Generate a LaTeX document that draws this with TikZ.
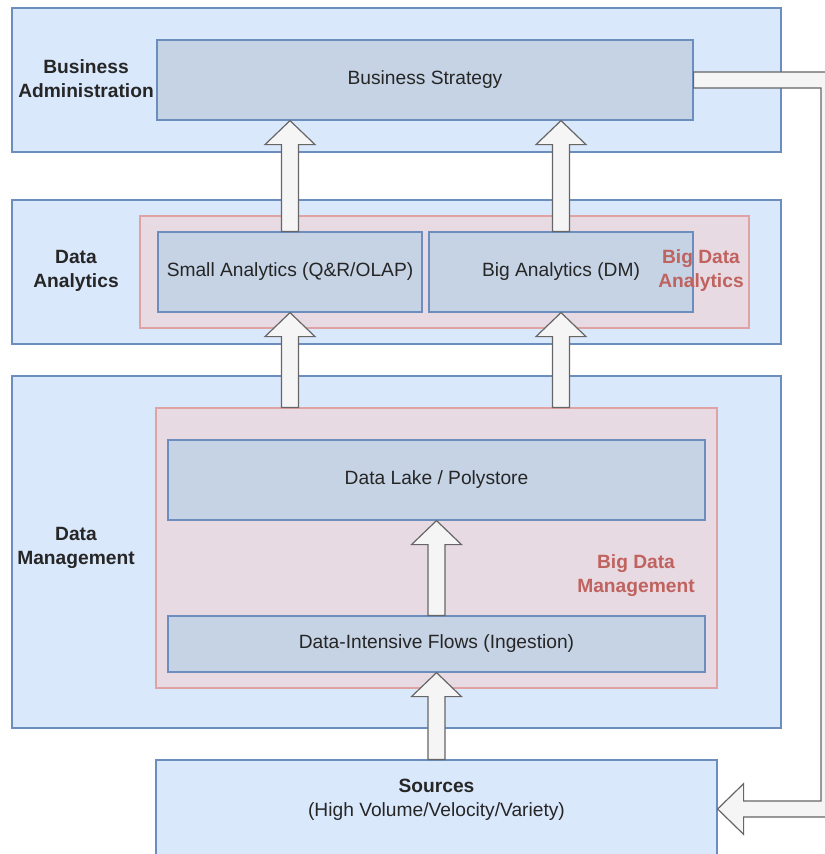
\documentclass[tikz,border=0pt]{standalone}
\usepackage{fontspec}
\setmainfont{Liberation Sans}
\usetikzlibrary{calc}
\definecolor{layerfill}{HTML}{DAE8FC}
\definecolor{layerline}{HTML}{6C8EBF}
\definecolor{boxfill}{HTML}{C5D3E5}
\definecolor{bigfill}{HTML}{E8DAE3}
\definecolor{bigline}{HTML}{E0A3A3}
\definecolor{bigtext}{HTML}{C0625E}
\definecolor{arrfill}{HTML}{F5F5F5}
\definecolor{arrline}{HTML}{666666}

% fat arrow going up from #1 to #2
\newcommand{\fatup}[2]{%
  \draw[fat] let \p1=#1, \p2=#2 in
    (\x1-6.4pt,\y1) -- (\x1-6.4pt,\y2-18pt) -- (\x1-18.75pt,\y2-18pt) -- (\x1,\y2)
    -- (\x1+18.75pt,\y2-18pt) -- (\x1+6.4pt,\y2-18pt) -- (\x1+6.4pt,\y1) -- cycle;}

\begin{document}
\begin{tikzpicture}[x=0.75pt,y=-0.75pt,
  every node/.style={font=\fontsize{14.4}{18}\selectfont, text=black!85, align=center},
  wh/.style 2 args={minimum width=#1*0.75pt, minimum height=#2*0.75pt, inner sep=0pt},
  layer/.style={draw=layerline, fill=layerfill, line width=0.9pt},
  box/.style={draw=layerline, fill=boxfill, line width=0.9pt},
  bigdata/.style={draw=bigline, fill=bigfill, line width=0.9pt},
  layertag/.style={font=\fontsize{14.4}{18}\selectfont\bfseries},
  bigtag/.style={text=bigtext, font=\fontsize{14.4}{18}\selectfont\bfseries},
  fat/.style={draw=arrline, fill=arrfill, line width=0.9pt, line join=miter}]
\useasboundingbox (0,0) rectangle (825,854);
% layers
\node[layer, wh={769}{144}] (bizLayer) at (396.5,80) {};
\node[layer, wh={769}{144}] (anaLayer) at (396.5,272) {};
\node[layer, wh={769}{352}] (dmLayer) at (396.5,552) {};
% big data groups
\node[bigdata, wh={609}{112}] (bdaGroup) at (444.5,272) {};
\node[bigdata, wh={561}{280}] (bdmGroup) at (436.5,548) {};
% boxes
\node[box, wh={536}{80}] (strategy) at (425,80) {Business Strategy};
\node[box, wh={264}{80}] (small) at (290,272) {Small Analytics (Q\&R/OLAP)};
\node[box, wh={264}{80}] (big) at (561,272) {Big Analytics (DM)};
\node[box, wh={537}{80}] (lake) at (436.5,480) {Data Lake / Polystore};
\node[box, wh={537}{56}] (flows) at (436.5,644) {Data-Intensive Flows (Ingestion)};
\node[layer, wh={561}{98}] (sources) at (436.5,809) {};
\node (srcText) at (436.5,800) {\textbf{Sources}\\(High Volume/Velocity/Variety)};
% tags
\node[layertag] (bizTag) at (86,79) {Business\\Administration};
\node[layertag] (anaTag) at (76,271) {Data\\Analytics};
\node[layertag] (dmTag) at (76,548) {Data\\Management};
\node[bigtag] (bdaTag) at (701,271) {Big Data\\Analytics};
\node[bigtag] (bdmTag) at (636,576) {Big Data\\Management};
% fat arrows
\fatup{(small.north)}{(strategy.south -| small.north)}
\fatup{(big.north)}{(strategy.south -| big.north)}
\fatup{(bdmGroup.north -| small.south)}{(small.south)}
\fatup{(bdmGroup.north -| big.south)}{(big.south)}
\fatup{(flows.north)}{(lake.south)}
\fatup{(sources.north)}{(flows.south)}
% feedback loop
\coordinate (bend) at (829,0);
\draw[fat] let \p1=(strategy.east), \p2=(sources.east), \p3=(bend) in
  (\x1,\y1+6pt) -- (\x3+6pt,\y1+6pt) -- (\x3+6pt,\y2-6pt) -- (\x2+19.5pt,\y2-6pt)
  -- (\x2+19.5pt,\y2-19pt) -- (\x2,\y2) -- (\x2+19.5pt,\y2+19pt) -- (\x2+19.5pt,\y2+6pt)
  -- (\x3-6pt,\y2+6pt) -- (\x3-6pt,\y1-6pt) -- (\x1,\y1-6pt) -- cycle;
\end{tikzpicture}
\end{document}
